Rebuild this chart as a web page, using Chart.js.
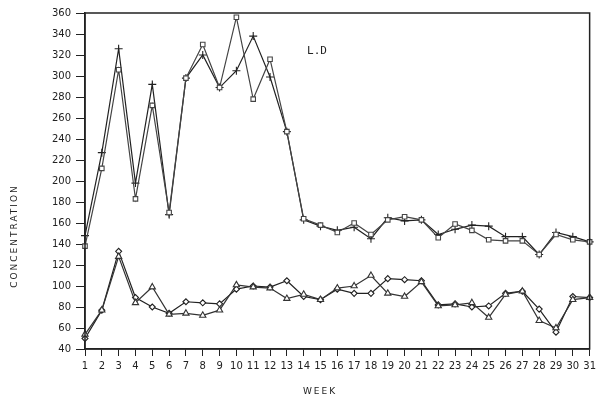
<!DOCTYPE html>
<html>
<head>
<meta charset="utf-8">
<script src="https://cdn.jsdelivr.net/npm/chart.js@4"></script>
<style>
html, body { margin: 0; padding: 0; background: #fff; }
</style>
</head>
<body>
<canvas id="myChart" width="600" height="407"></canvas>
<script>
"use strict";

const weeks = ['1','2','3','4','5','6','7','8','9','10','11','12','13','14','15','16',
    '17','18','19','20','21','22','23','24','25','26','27','28','29','30','31'];

const yTickValues = [40, 60, 80, 100, 120, 140, 160, 180, 200, 220, 240, 260, 280, 300, 320, 340, 360];

// upper pair
const squareSeries = [138, 212, 306, 183, 272, 170, 298, 330, 289, 356, 278, 316, 247, 164, 158, 151,
    160, 149, 163, 166, 163, 146, 159, 153, 144, 143, 143, 130, 149, 144, 142];
const plusSeries = [148, 227, 326, 198, 292, 168, 298, 320, 289, 305, 338, 299, 247, 163, 157, 153,
    156, 145, 165, 162, 163, 149, 154, 158, 157, 147, 147, 130, 151, 147, 142];

// lower pair
const triangleSeries = [54, 77, 128, 84, 99, 73, 74, 72, 77, 101, 99, 98, 88, 92, 87, 98,
    100, 110, 93, 90, 104, 81, 82, 84, 70, 92, 95, 67, 60, 87, 89];
const diamondSeries = [50, 77, 133, 89, 80, 74, 85, 84, 83, 97, 100, 99, 105, 90, 87, 97,
    93, 93, 107, 106, 105, 82, 83, 80, 81, 93, 95, 78, 56, 90, 89];

const ink = '#222';

function makeSet(data, style, radius, color) {
    return {
        data: data,
        borderColor: color,
        borderWidth: 1.2,
        pointStyle: style,
        pointRadius: radius,
        pointBorderColor: color,
        pointBackgroundColor: '#fff',
        pointBorderWidth: 1.1,
        tension: 0,
        fill: false
    };
}

// frame + text that sits at fixed spots
const extras = {
    id: 'extras',
    afterDraw(chart) {
        const ctx = chart.ctx;
        const a = chart.chartArea;
        ctx.save();
        ctx.strokeStyle = ink;
        ctx.lineWidth = 1.5;
        ctx.strokeRect(a.left, a.top, a.right - a.left, a.bottom - a.top);

        ctx.fillStyle = ink;
        ctx.textAlign = 'center';
        ctx.textBaseline = 'middle';
        ctx.font = '9px "DejaVu Sans"';
        if ('letterSpacing' in ctx) ctx.letterSpacing = '2px';
        ctx.fillText('WEEK', 320, 392);

        ctx.save();
        ctx.translate(15, 236);
        ctx.rotate(-Math.PI / 2);
        ctx.fillText('CONCENTRATION', 0, 0);
        ctx.restore();

        if ('letterSpacing' in ctx) ctx.letterSpacing = '0px';
        ctx.font = '11px "DejaVu Sans Mono"';
        ctx.fillText('L.D', 317, 51);
        ctx.restore();
    }
};

const ctx = document.getElementById('myChart');

const chart = new Chart(ctx, {
    type: 'line',
    data: {
        labels: weeks,
        datasets: [
            makeSet(squareSeries, 'rect', 3.2, '#444'),
            makeSet(plusSeries, 'cross', 4, ink),
            makeSet(triangleSeries, 'triangle', 3.6, '#333'),
            makeSet(diamondSeries, 'rectRot', 3, ink)
        ]
    },
    options: {
        responsive: false,
        animation: false,
        layout: { padding: { top: 13, right: 10, left: 0, bottom: 0 } },
        plugins: {
            legend: { display: false },
            tooltip: { enabled: false }
        },
        scales: {
            x: {
                type: 'category',
                offset: false,
                afterFit: (s) => { s.height = 58; },
                border: { display: true, color: ink, width: 1.5 },
                grid: { offset: false, drawOnChartArea: false, drawTicks: true, tickLength: 7, color: ink },
                ticks: {
                    autoSkip: false, maxRotation: 0, padding: 4, color: ink,
                    font: { family: 'DejaVu Sans', size: 10 }
                }
            },
            y: {
                min: 40,
                max: 360,
                afterFit: (s) => { s.width = 85; },
                afterBuildTicks: (s) => { s.ticks = yTickValues.map((v) => ({ value: v })); },
                border: { display: true, color: ink, width: 1.5 },
                grid: { drawOnChartArea: false, drawTicks: true, tickLength: 9, color: ink },
                ticks: {
                    padding: 5, color: ink,
                    font: { family: 'DejaVu Sans', size: 10 }
                }
            }
        }
    },
    plugins: [extras]
});
</script>
</body>
</html>
